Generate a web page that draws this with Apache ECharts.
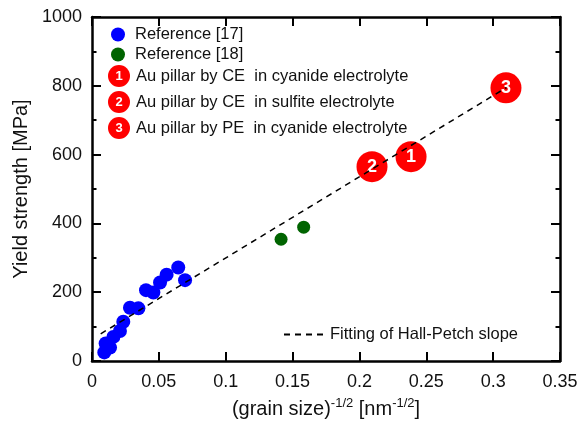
<!DOCTYPE html>
<html>
<head>
<meta charset="utf-8">
<script src="https://cdn.jsdelivr.net/npm/echarts@6/dist/echarts.min.js"></script>
<style>
  html, body { margin: 0; padding: 0; background: #fff; }
  #chart { width: 581px; height: 426px; }
</style>
</head>
<body>
<div id="chart"></div>
<script>
  // data
  var ref17X = [0.0092, 0.0135, 0.0102, 0.0160, 0.0209, 0.0234, 0.0284, 0.0347, 0.0404, 0.0459, 0.0509, 0.0558, 0.0645, 0.0696];
  var ref17Y = [25, 39, 51, 70, 87, 114, 155, 153, 206, 199, 228, 251, 272, 235];
  var ref18X = [0.1414, 0.1583];
  var ref18Y = [354, 389];
  var pillarX = [0.2386, 0.2094, 0.3096];
  var pillarY = [594, 565, 794];
  var pillarNames = ['Au pillar by CE  in cyanide electrolyte', 'Au pillar by CE  in sulfite electrolyte', 'Au pillar by PE  in cyanide electrolyte'];
  var pillarLabels = ['1', '2', '3'];
  var fitX = [0.0065, 0.31];
  var fitY = [79, 795];

  var font = 'Liberation Sans, Arial, sans-serif';

  function pairs(xs, ys) {
    return xs.map(function (x, i) { return [x, ys[i]]; });
  }

  var chart = echarts.init(document.getElementById('chart'));

  var xBase = {
    type: 'value', min: 0, max: 0.35, interval: 0.05,
    splitLine: { show: false },
    axisLine: { onZero: false, lineStyle: { color: '#000', width: 2.5 } },
    axisTick: { inside: true, length: 9, lineStyle: { color: '#000', width: 2 } }
  };
  var yBase = {
    type: 'value', min: 0, max: 1000, interval: 200,
    splitLine: { show: false },
    axisLine: { onZero: false, lineStyle: { color: '#000', width: 2.5 } },
    axisTick: { inside: true, length: 9, lineStyle: { color: '#000', width: 2 } },
    minorTick: { show: true, splitNumber: 2, length: 4.5, lineStyle: { color: '#000', width: 2 } }
  };

  var series = [
    {
      name: 'Fitting of Hall-Petch slope',
      type: 'line',
      data: pairs(fitX, fitY),
      symbol: 'none',
      lineStyle: { color: '#000', width: 1.5, type: [6, 5] },
      itemStyle: { color: '#000' }
    },
    {
      name: 'Reference [17]',
      type: 'scatter',
      data: pairs(ref17X, ref17Y),
      symbolSize: 14,
      itemStyle: { color: '#0000ff', opacity: 1 }
    },
    {
      name: 'Reference [18]',
      type: 'scatter',
      data: pairs(ref18X, ref18Y),
      symbolSize: 13,
      itemStyle: { color: '#006400', opacity: 1 }
    }
  ];
  pillarNames.forEach(function (n, i) {
    series.push({
      name: n,
      type: 'scatter',
      data: [[pillarX[i], pillarY[i]]],
      symbolSize: 31,
      itemStyle: { color: '#ff0000', opacity: 1 },
      label: {
        show: true, position: 'inside', formatter: pillarLabels[i],
        color: '#fff', fontWeight: 'bold', fontSize: 18, fontFamily: font
      }
    });
  });

  var option = {
    backgroundColor: '#fff',
    animation: false,
    grid: { left: 92, right: 21, top: 17, bottom: 65 },
    xAxis: [
      Object.assign({}, xBase, {
        position: 'bottom',
        axisLabel: { color: '#111', fontSize: 18, fontFamily: font, margin: 12 },
        name: '(grain size){sup|-1/2} [nm{sup|-1/2}]',
        nameLocation: 'middle',
        nameGap: 36,
        nameTextStyle: {
          color: '#111', fontSize: 20, fontFamily: font, lineHeight: 24,
          rich: { sup: { fontSize: 13, fontFamily: font, color: '#111', lineHeight: 13, verticalAlign: 'top' } }
        }
      }),
      Object.assign({}, xBase, { position: 'top', axisLabel: { show: false } })
    ],
    yAxis: [
      Object.assign({}, yBase, {
        position: 'left',
        axisLabel: {
          color: '#111', fontSize: 18, fontFamily: font, margin: 10,
          formatter: function (v) { return String(v); }
        },
        name: 'Yield strength [MPa]',
        nameLocation: 'middle',
        nameGap: 41,
        nameTextStyle: { color: '#111', fontSize: 20, fontFamily: font }
      }),
      Object.assign({}, yBase, { position: 'right', axisLabel: { show: false } })
    ],
    legend: [
      {
        data: ['Reference [17]', 'Reference [18]'],
        orient: 'vertical', left: 106, top: 21,
        itemWidth: 24, itemHeight: 14, itemGap: 3,
        textStyle: { color: '#111', fontSize: 16.5, fontFamily: font, lineHeight: 16 }
      },
      {
        data: pillarNames.map(function (n) { return { name: n, icon: 'none' }; }),
        orient: 'vertical', left: 98, top: 60,
        itemWidth: 0, itemHeight: 22, itemGap: 4,
        formatter: function (name) {
          var i = pillarNames.indexOf(name);
          return '{c|' + pillarLabels[i] + '}{t|' + name + '}';
        },
        textStyle: {
          color: '#111', fontSize: 16.5, fontFamily: font,
          rich: {
            c: { width: 22, height: 22, lineHeight: 22, borderRadius: 11, backgroundColor: '#ff0000',
                 color: '#fff', fontWeight: 'bold', fontSize: 13, fontFamily: font, align: 'center' },
            t: { color: '#111', fontSize: 16.5, fontFamily: font, padding: [0, 0, 0, 6] }
          }
        }
      },
      {
        data: ['Fitting of Hall-Petch slope'],
        left: 278, top: 321,
        itemWidth: 41, itemHeight: 14,
        itemStyle: { opacity: 0 },
        textStyle: { color: '#111', fontSize: 16.5, fontFamily: font }
      }
    ],
    series: series
  };

  chart.setOption(option);
</script>
</body>
</html>
